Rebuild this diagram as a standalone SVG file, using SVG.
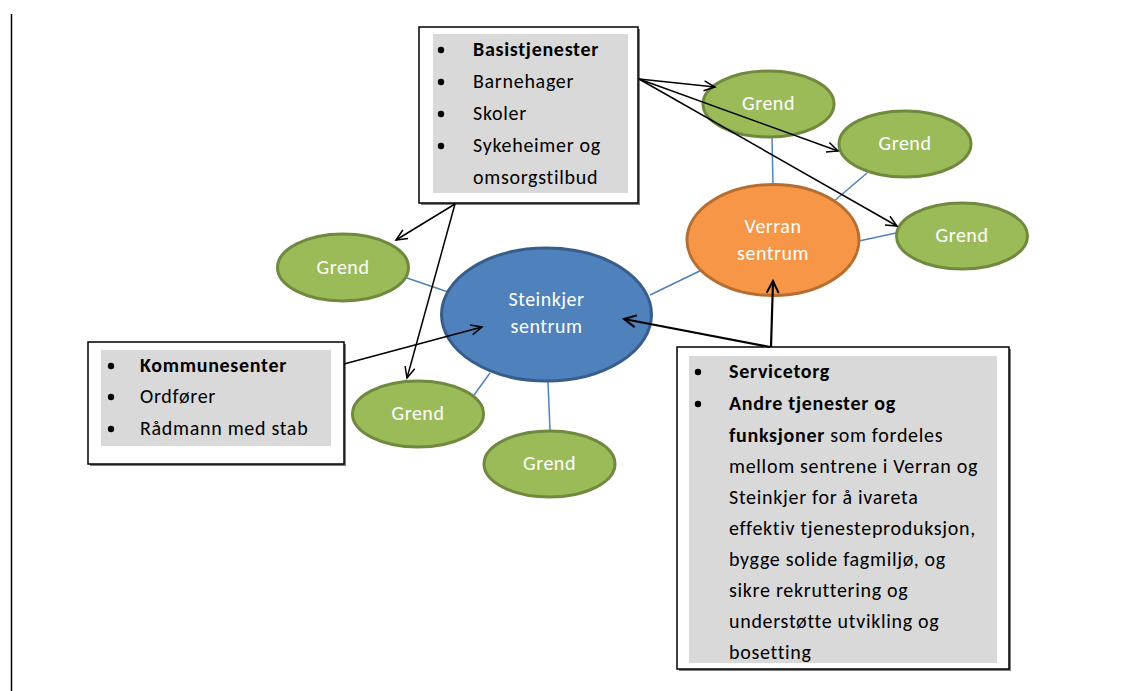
<svg xmlns="http://www.w3.org/2000/svg" width="1134" height="691" viewBox="0 0 1134 691">
<defs>
<marker id="arr" markerUnits="userSpaceOnUse" markerWidth="14" markerHeight="14" refX="12" refY="6" orient="auto" viewBox="0 0 14 12">
<path d="M1,1 L12,6 L1,11" fill="none" stroke="#000" stroke-width="1.5"/>
</marker>
<marker id="arr2" markerUnits="userSpaceOnUse" markerWidth="16" markerHeight="16" refX="13" refY="7" orient="auto" viewBox="0 0 16 14">
<path d="M1,1 L13,7 L1,13" fill="none" stroke="#000" stroke-width="2"/>
</marker>
</defs>
<style>
text{font-family:Carlito,Lato,"Liberation Sans",sans-serif;}
.g ellipse{fill:#9BBB59;stroke:#71893F;stroke-width:3;}
.lbl{fill:#fff;font-size:20px;letter-spacing:0.5px;text-anchor:middle;}
.box{fill:#fff;stroke:#000;stroke-width:1.5;}
.shadow{fill:#7f7f7f;}
.shade{fill:#D9D9D9;}
.t{fill:#000;font-size:20px;letter-spacing:0.7px;}
.b{font-weight:bold;}
.blue{stroke:#4F81BD;stroke-width:1.5;fill:none;}
.ar{stroke:#000;stroke-width:1.5;fill:none;marker-end:url(#arr);}
.ar2{stroke:#000;stroke-width:2.2;fill:none;marker-end:url(#arr2);}
</style>
<rect width="1134" height="691" fill="#fff"/>
<line x1="11.5" y1="14" x2="11.5" y2="691" stroke="#000" stroke-width="1.5"/>

<g id="connectors-blue">
<line class="blue" x1="772" y1="138" x2="773" y2="184"/>
<line class="blue" x1="867" y1="173" x2="833" y2="202"/>
<line class="blue" x1="896" y1="233" x2="859" y2="241"/>
<line class="blue" x1="706" y1="268" x2="650" y2="295"/>
<line class="blue" x1="407" y1="278" x2="457" y2="295"/>
<line class="blue" x1="474" y1="395" x2="490" y2="373"/>
<line class="blue" x1="548" y1="382" x2="550" y2="430"/>
</g>

<g id="steinkjer">
<ellipse cx="546.5" cy="314.5" rx="105" ry="66.5" fill="#4F81BD" stroke="#385D8A" stroke-width="3"/>
<text class="lbl" x="546.5" y="306">Steinkjer</text>
<text class="lbl" x="546.5" y="333">sentrum</text>
</g>
<g id="verran">
<ellipse cx="773" cy="240" rx="86" ry="55.5" fill="#F79646" stroke="#B66D31" stroke-width="3"/>
<text class="lbl" x="773" y="233">Verran</text>
<text class="lbl" x="773" y="260">sentrum</text>
</g>
<g id="grend1" class="g"><ellipse cx="768.5" cy="104" rx="65.5" ry="33"/><text class="lbl" x="768.5" y="110">Grend</text></g>
<g id="grend2" class="g"><ellipse cx="905" cy="144" rx="66" ry="33"/><text class="lbl" x="905" y="150">Grend</text></g>
<g id="grend3" class="g"><ellipse cx="962" cy="236" rx="65.5" ry="33"/><text class="lbl" x="962" y="242">Grend</text></g>
<g id="grend4" class="g"><ellipse cx="343" cy="267.5" rx="65.5" ry="33.5"/><text class="lbl" x="343" y="274">Grend</text></g>
<g id="grend5" class="g"><ellipse cx="418" cy="414" rx="65.5" ry="33"/><text class="lbl" x="418" y="420">Grend</text></g>
<g id="grend6" class="g"><ellipse cx="549.5" cy="464" rx="65.5" ry="33"/><text class="lbl" x="549.5" y="470">Grend</text></g>

<g id="basis">
<rect class="shadow" x="421" y="29" width="219" height="176"/>
<rect class="box" x="419" y="27" width="219" height="176"/>
<rect class="shade" x="433" y="34" width="195" height="159"/>
<circle cx="441" cy="50" r="3.2"/><circle cx="441" cy="82" r="3.2"/><circle cx="441" cy="114" r="3.2"/><circle cx="441" cy="146" r="3.2"/>
<text class="t b" x="473" y="56">Basistjenester</text>
<text class="t" x="473" y="88">Barnehager</text>
<text class="t" x="473" y="120">Skoler</text>
<text class="t" x="473" y="152">Sykeheimer og</text>
<text class="t" x="473" y="184">omsorgstilbud</text>
</g>

<g id="kommune">
<rect class="shadow" x="90" y="344" width="256" height="122"/>
<rect class="box" x="88" y="342" width="256" height="122"/>
<rect class="shade" x="101" y="350" width="230" height="96"/>
<circle cx="111" cy="366" r="3.2"/><circle cx="111" cy="397" r="3.2"/><circle cx="111" cy="429" r="3.2"/>
<text class="t b" x="140" y="372">Kommunesenter</text>
<text class="t" x="140" y="403">Ordfører</text>
<text class="t" x="140" y="435">Rådmann med stab</text>
</g>

<g id="service">
<rect class="shadow" x="679" y="349" width="332" height="322"/>
<rect class="box" x="677" y="347" width="332" height="322"/>
<rect class="shade" x="689" y="356" width="308" height="307"/>
<circle cx="698" cy="372" r="3.2"/><circle cx="698" cy="404" r="3.2"/>
<text class="t b" x="729" y="378">Servicetorg</text>
<text class="t b" x="729" y="410">Andre tjenester og</text>
<text class="t" x="729" y="442"><tspan class="b">funksjoner</tspan> som fordeles</text>
<text class="t" x="729" y="473">mellom sentrene i Verran og</text>
<text class="t" x="729" y="504">Steinkjer for å ivareta</text>
<text class="t" x="729" y="535">effektiv tjenesteproduksjon,</text>
<text class="t" x="729" y="566">bygge solide fagmiljø, og</text>
<text class="t" x="729" y="597">sikre rekruttering og</text>
<text class="t" x="729" y="628">understøtte utvikling og</text>
<text class="t" x="729" y="659">bosetting</text>
</g>

<g id="connectors-arrows">
<line class="ar" x1="639" y1="79" x2="715" y2="87"/>
<line class="ar" x1="639" y1="79" x2="838" y2="151"/>
<line class="ar" x1="639" y1="79" x2="897" y2="226"/>
<line class="ar" x1="455" y1="204" x2="396" y2="240"/>
<line class="ar" x1="455" y1="204" x2="407" y2="378"/>
<line class="ar" x1="344" y1="364" x2="482" y2="327"/>
<line class="ar2" x1="770" y1="347" x2="624" y2="319"/>
<line class="ar2" x1="771" y1="347" x2="773" y2="281"/>
</g>
</svg>
